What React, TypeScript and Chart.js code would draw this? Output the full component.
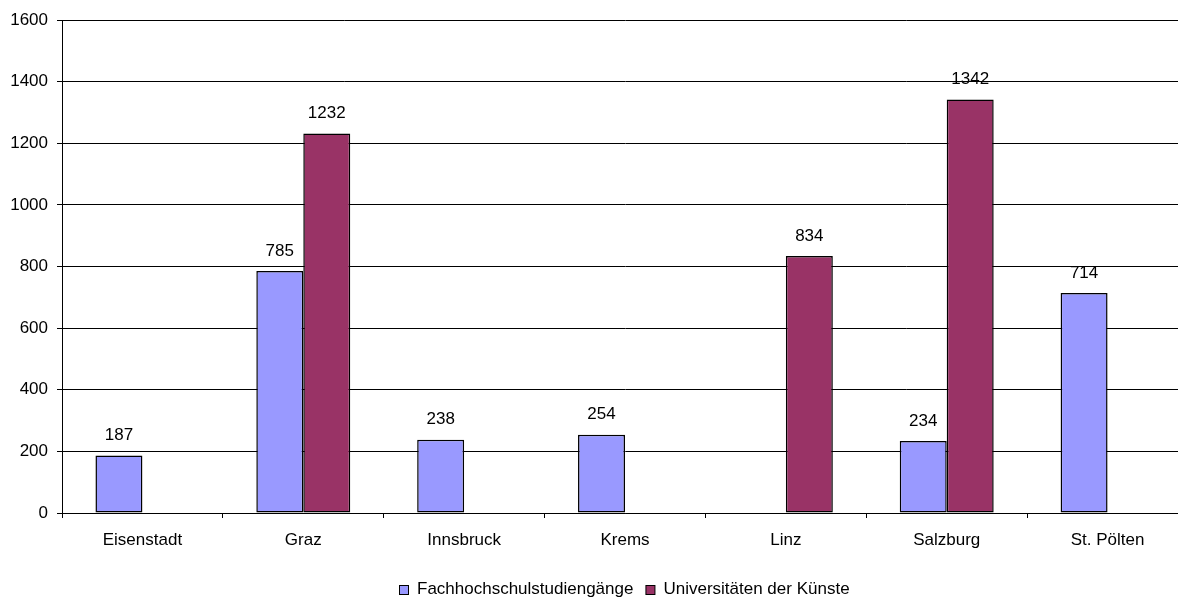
import React, { useEffect, useRef } from "react";
import { Chart, registerables } from "chart.js";

Chart.register(...registerables);

const categories = ["Eisenstadt", "Graz", "Innsbruck", "Krems", "Linz", "Salzburg", "St. Pölten"];
const fhValues: (number | null)[] = [187, 785, 238, 254, null, 234, 714];
const ukValues: (number | null)[] = [null, 1232, null, null, 834, 1342, null];
const seriesLabels = ["Fachhochschulstudiengänge", "Universitäten der Künste"];
const seriesColors = ["#9999FF", "#993366"];

const FONT = "Liberation Sans, Arial, sans-serif";
const FS = 17;

const valueLabels = {
  id: "valueLabels",
  afterDatasetsDraw(chart: any) {
    const ctx = chart.ctx;
    ctx.save();
    ctx.font = `${FS}px ${FONT}`;
    ctx.fillStyle = "#000";
    ctx.textAlign = "center";
    ctx.textBaseline = "middle";
    chart.data.datasets.forEach((ds: any, i: number) => {
      const meta = chart.getDatasetMeta(i);
      meta.data.forEach((bar: any, j: number) => {
        const v = ds.data[j];
        if (v === null || v === undefined) return;
        ctx.fillText(String(v), bar.x, bar.y - 20);
      });
    });
    ctx.restore();
  },
};

const customLegend = {
  id: "customLegend",
  afterDraw(chart: any) {
    const ctx = chart.ctx;
    ctx.save();
    ctx.font = `${FS}px ${FONT}`;
    ctx.textBaseline = "alphabetic";
    ctx.textAlign = "left";
    const box = 9;
    const gapText = 9;
    const gapItem = 12;
    const widths = seriesLabels.map((l) => ctx.measureText(l).width);
    let total = 0;
    widths.forEach((w, i) => {
      total += box + gapText + w + (i < widths.length - 1 ? gapItem : 0);
    });
    const center = 624;
    let x = Math.round(center - total / 2);
    const baseline = 594;
    seriesLabels.forEach((l, i) => {
      ctx.fillStyle = seriesColors[i];
      ctx.fillRect(x + 0.5, baseline - box + 0.5, box, box);
      ctx.strokeStyle = "#000";
      ctx.lineWidth = 1;
      ctx.strokeRect(x + 0.5, baseline - box + 0.5, box, box);
      ctx.fillStyle = "#000";
      ctx.fillText(l, x + box + gapText, baseline);
      x += box + gapText + widths[i] + gapItem;
    });
    ctx.restore();
  },
};

export default function App() {
  const ref = useRef<HTMLCanvasElement>(null);
  useEffect(() => {
    if (!ref.current) return;
    const chart = new Chart(ref.current, {
      type: "bar",
      data: {
        labels: categories,
        datasets: [
          {
            label: seriesLabels[0],
            data: fhValues,
            backgroundColor: seriesColors[0],
            borderColor: "#000",
            borderWidth: 1.5,
            borderSkipped: false,
          },
          {
            label: seriesLabels[1],
            data: ukValues,
            backgroundColor: seriesColors[1],
            borderColor: "#000",
            borderWidth: 1.5,
            borderSkipped: false,
          },
        ],
      },
      options: {
        responsive: false,
        animation: false,
        events: [],
        categoryPercentage: 0.584,
        barPercentage: 1,
        layout: { padding: { top: 20, right: 0, bottom: 24, left: 0 } },
        plugins: {
          legend: { display: false },
          tooltip: { enabled: false },
          title: { display: false },
        },
        scales: {
          x: {
            afterFit: (s: any) => {
              s.height = 60;
            },
            grid: {
              offset: true,
              drawOnChartArea: false,
              drawTicks: true,
              tickLength: 5,
              color: "#000",
            },
            border: { color: "#000", width: 1 },
            ticks: {
              color: "#000",
              padding: 12,
              font: { family: FONT, size: FS },
              maxRotation: 0,
              autoSkip: false,
            },
          },
          y: {
            min: 0,
            max: 1600,
            afterFit: (s: any) => {
              s.width = 62;
            },
            grid: {
              color: "#000",
              lineWidth: 1,
              tickLength: 5,
            },
            border: { color: "#000", width: 1 },
            ticks: {
              stepSize: 200,
              color: "#000",
              padding: 9,
              font: { family: FONT, size: FS },
              callback: (v: any) => String(v),
            },
          },
        },
      },
      plugins: [valueLabels, customLegend],
    });
    return () => chart.destroy();
  }, []);
  return (
    <div
      style={{
        position: "absolute",
        left: 0,
        top: 0,
        width: 1178,
        height: 597,
        overflow: "hidden",
        background: "#fff",
      }}
    >
      <canvas ref={ref} width={1188} height={597} style={{ display: "block", width: 1188, height: 597 }} />
    </div>
  );
}
